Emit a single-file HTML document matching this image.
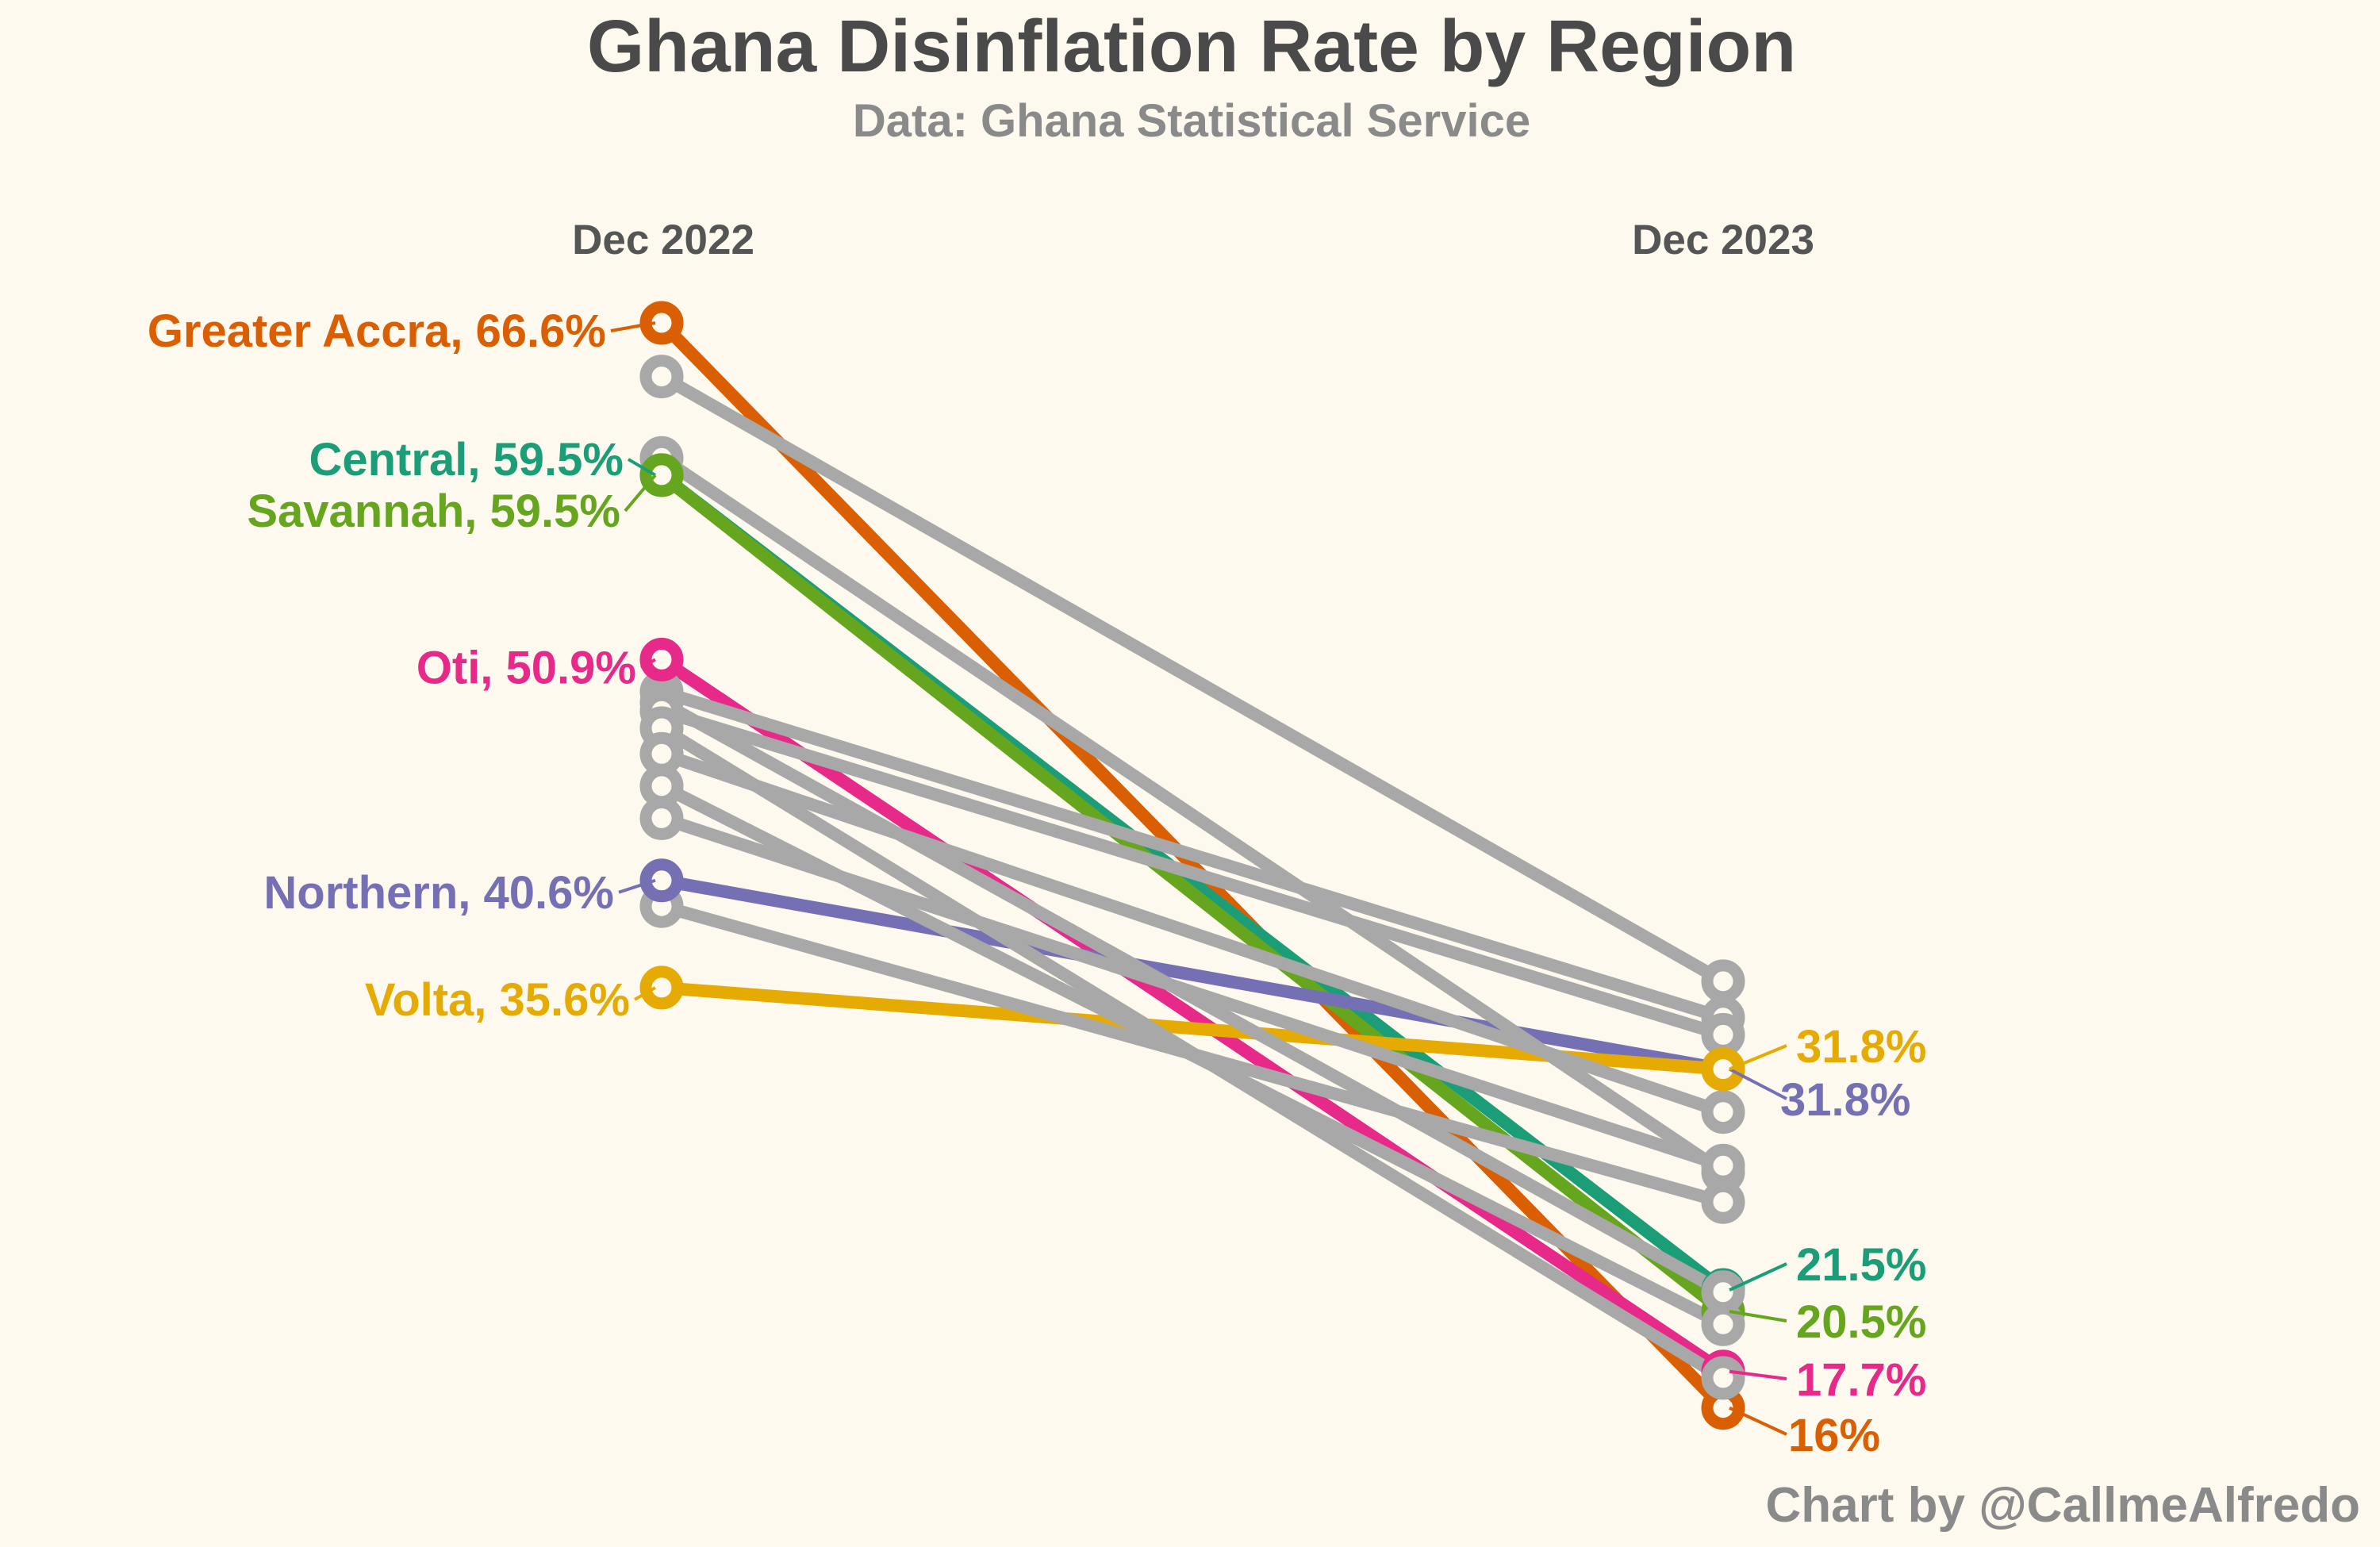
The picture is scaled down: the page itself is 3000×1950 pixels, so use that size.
<!DOCTYPE html>
<html><head><meta charset="utf-8">
<style>
html,body{margin:0;padding:0;background:#fdf9ee;}
svg{display:block;font-family:"Liberation Sans",Arial,sans-serif;font-weight:bold;}
</style></head>
<body>
<svg id="chart" width="3000" height="1950" viewBox="0 0 3000 1950">
<rect width="3000" height="1950" fill="#fdf9ee"/>
<text x="1502" y="90" text-anchor="middle" font-size="93" fill="#4a4a4a">Ghana Disinflation Rate by Region</text>
<text x="1502" y="172" text-anchor="middle" font-size="58" fill="#8a8a8a">Data: Ghana Statistical Service</text>
<text x="836" y="320" text-anchor="middle" font-size="53" fill="#555">Dec 2022</text>
<text x="2172" y="320" text-anchor="middle" font-size="53" fill="#555">Dec 2023</text>
<text x="2975" y="1918" text-anchor="end" font-size="62" fill="#8a8a8a">Chart by @CallmeAlfredo</text>
<g id="lines"></g><g id="marks"></g><g id="labels"></g>
</svg>
<script>
const grayStart = [64.1, 60.3, 49.4, 48.9, 48.5, 47.7, 46.5, 45.0, 43.5, 39.4];
const grayEnd   = [35.9, 27.0, 34.2, 21.4, 33.4, 17.4, 29.8, 19.9, 27.3, 25.6];
const hiNames = ["Greater Accra", "Central", "Savannah", "Oti", "Northern", "Volta"];
const hiStart = [66.6, 59.5, 59.5, 50.9, 40.6, 35.6];
const hiEnd   = [16, 21.5, 20.5, 17.7, 31.8, 31.8];
const hiEndLabels = ["16%", "21.5%", "20.5%", "17.7%", "31.8%", "31.8%"];
const hiColors = ["#d95f02", "#1b9e77", "#66a61e", "#e7298a", "#7570b3", "#e6ab02"];

const NS = "http://www.w3.org/2000/svg";
const xL = 834, xR = 2172;
function y(v){ return 407 + (66.6 - v) * 27.03; }
function mk(tag, attrs, parent){ const e=document.createElementNS(NS,tag); for(const k in attrs) e.setAttribute(k,attrs[k]); parent.appendChild(e); return e; }
const gL=document.getElementById('lines'), gM=document.getElementById('marks'), gT=document.getElementById('labels');
const LW=16, R=20, SW=15;

hiStart.forEach((s,i)=>{
  const l=mk('line',{x1:xL,y1:y(s),x2:xR,y2:y(hiEnd[i]),stroke:hiColors[i],'stroke-width':LW},gL);
  
  
});
grayStart.forEach((s,i)=>{
  const l=mk('line',{x1:xL,y1:y(s),x2:xR,y2:y(grayEnd[i]),stroke:"#a8a8a8",'stroke-width':LW},gL);
  
  
});
hiEnd.forEach((e,i)=>{
  const c=mk('circle',{cx:xR,cy:y(e),r:R,fill:"#fdf9ee",stroke:hiColors[i],'stroke-width':SW},gM);
  
  
});
grayStart.forEach((s,i)=>{
  const a=mk('circle',{cx:xL,cy:y(s),r:R,fill:"#fdf9ee",stroke:"#a8a8a8",'stroke-width':SW},gM);
  
  
  const b=mk('circle',{cx:xR,cy:y(grayEnd[i]),r:R,fill:"#fdf9ee",stroke:"#a8a8a8",'stroke-width':SW},gM);
  
  
});
hiStart.forEach((s,i)=>{
  const c=mk('circle',{cx:xL,cy:y(s),r:R,fill:"#fdf9ee",stroke:hiColors[i],'stroke-width':SW},gM);
  
  
});
{
  const c=mk('circle',{cx:xR,cy:y(hiEnd[5]),r:R,fill:"#fdf9ee",stroke:hiColors[5],'stroke-width':SW},gM);
  
  
}
const leftLabelDy = [10, -20, 45, 10, 15, 15];
const leftLabelDx = [-70, -48, -52, -32, -60, -40];
hiStart.forEach((s,i)=>{
  const yy=y(s), ly=yy+leftLabelDy[i], lx=xL+leftLabelDx[i];
  const ln=mk('line',{x1:xL-8,y1:yy,x2:lx+6,y2:ly,stroke:hiColors[i],'stroke-width':4},gT);
  
  
  const t=mk('text',{x:lx,y:ly+20,'text-anchor':'end','font-size':58,fill:hiColors[i]},gT);
  t.textContent = hiNames[i] + ', ' + s + '%';
  
  
});
const rightYOverride = [1808, 1593, 1665, 1738, 1385, 1318];
hiEnd.forEach((e,i)=>{
  const yy=y(e), ly=rightYOverride[i], lx=xR+92;
  const ln=mk('line',{x1:xR+8,y1:yy,x2:lx-12,y2:ly,stroke:hiColors[i],'stroke-width':4},gT);
  
  
  const t=mk('text',{x:lx+(i===0?-10:(i===4?-20:0)),y:ly+21,'font-size':58,fill:hiColors[i]},gT);
  t.textContent = hiEndLabels[i];
  
  
});
</script>
</body></html>
